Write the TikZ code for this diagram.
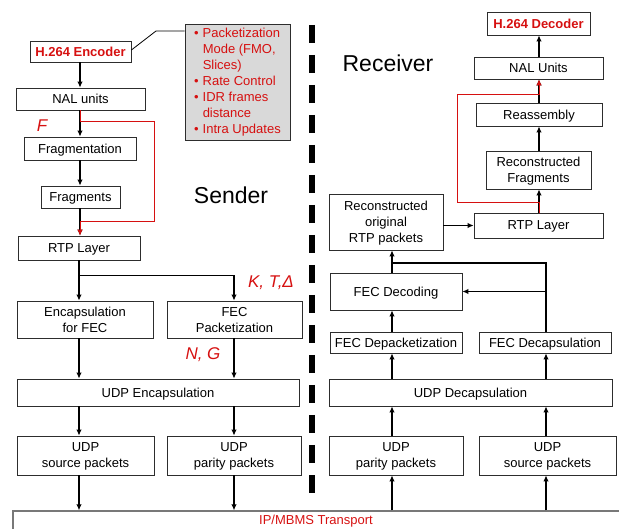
\documentclass[tikz,border=0pt]{standalone}
\usepackage{fontspec}
\setmainfont{Liberation Sans}
\usetikzlibrary{arrows.meta,positioning}
\definecolor{hred}{RGB}{214,16,16}
\definecolor{notegray}{RGB}{217,217,217}
\definecolor{boxline}{RGB}{45,45,45}
\definecolor{linegray}{RGB}{120,120,120}

\begin{document}
\begin{tikzpicture}[
  x=1pt, y=-1pt,
  box/.style={rectangle, draw=boxline, line width=0.8pt, inner sep=0pt, align=center,
              text depth=0pt, font=\fontsize{13}{16}\selectfont},
  title/.style={box, font=\fontsize{13}{16}\selectfont\bfseries, text=hred},
  arr/.style={-{Latex[length=6pt,width=5.5pt]}, line width=1.3pt},
  redarr/.style={-{Latex[length=6pt,width=5.5pt]}, line width=1pt, draw=hred},
  param/.style={font=\fontsize{17}{20}\selectfont\itshape, text=hred},
  side/.style={font=\fontsize{23}{27}\selectfont},
]
\useasboundingbox (0,0) rectangle (619,529);

% sender side
\node[title, minimum width=101pt, minimum height=21pt] (enc) at (80.5,51.5) {H.264 Encoder};
\node[box, fill=notegray, text=hred, text depth=, minimum width=105pt, minimum height=116pt] (note) at (237.5,82)
  {\begin{tabular}{@{}l@{\hspace{4pt}}l@{}}
   \textbullet & Packetization\\
               & Mode (FMO,\\
               & Slices)\\
   \textbullet & Rate Control\\
   \textbullet & IDR frames\\
               & distance\\
   \textbullet & Intra Updates
   \end{tabular}};
\node[box, minimum width=129pt, minimum height=22pt] (nal) at (80.5,99) {NAL units};
\node[box, minimum width=112pt, minimum height=23pt] (frag) at (80,148.5) {Fragmentation};
\node[box, minimum width=79pt, minimum height=22pt] (frags) at (80.5,197) {Fragments};
\node[box, minimum width=122pt, minimum height=24pt] (rtp) at (79,248) {RTP Layer};
\node[box, minimum width=136pt, minimum height=37pt] (encfec) at (85,319.5) {Encapsulation\\for FEC};
\node[box, minimum width=135pt, minimum height=37pt] (fecpkt) at (234.5,319.5) {FEC\\Packetization};
\node[box, minimum width=282pt, minimum height=27pt] (udpenc) at (158,392.5) {UDP Encapsulation};
\node[box, minimum width=137pt, minimum height=39pt] (srcpkt) at (85.5,455.5) {UDP\\source packets};
\node[box, minimum width=134pt, minimum height=39pt] (parpkt) at (234,455.5) {UDP\\parity packets};

\node[side] (sender) at (231,195) {Sender};
\node[param] (fpar) at (42,126) {F};
\node[param] (ktd) at (271,283) {K, T,Δ};
\node[param] (ng) at (203,355) {N, G};

% receiver side
\node[title, minimum width=103pt, minimum height=23pt] (dec) at (538.5,23.5) {H.264 Decoder};
\node[box, minimum width=129pt, minimum height=22pt] (nalu) at (538.5,68) {NAL Units};
\node[box, minimum width=126pt, minimum height=23pt] (reasm) at (539,114.5) {Reassembly};
\node[box, minimum width=105pt, minimum height=38pt] (recfrag) at (538.5,170) {Reconstructed\\Fragments};
\node[box, minimum width=129pt, minimum height=25pt] (rrtp) at (538.5,225.5) {RTP Layer};
\node[box, minimum width=114pt, minimum height=56pt] (recrtp) at (386,222) {Reconstructed\\original\\RTP packets};
\node[box, minimum width=132pt, minimum height=37pt] (fecdec) at (396,291.5) {FEC Decoding};
\node[box, minimum width=132pt, minimum height=21pt] (depkt) at (396,342.5) {FEC Depacketization};
\node[box, minimum width=132pt, minimum height=21pt] (decap) at (545,342.5) {FEC Decapsulation};
\node[box, minimum width=283pt, minimum height=27pt] (udpdec) at (470.5,392.5) {UDP Decapsulation};
\node[box, minimum width=134pt, minimum height=39pt] (rpar) at (396,455.5) {UDP\\parity packets};
\node[box, minimum width=137pt, minimum height=39pt] (rsrc) at (547.5,455.5) {UDP\\source packets};

\node[side] (receiver) at (388,63) {Receiver};

% transport
\node[box, draw=linegray, line width=1.3pt, minimum width=627pt, minimum height=49pt] (transport) at (326.5,535.5) {};
\node[font=\fontsize{13}{16}\selectfont, text=hred] (tlabel) at (316,521) {IP/MBMS Transport};

\draw[line width=6pt, dash pattern=on 18pt off 12pt] (312,25) -- (312,503);

% arrow columns
\coordinate (sx) at (80,0);
\coordinate (sa) at (79,0);
\coordinate (sb) at (234,0);
\coordinate (ra) at (392,0);
\coordinate (rb) at (546,0);
\coordinate (rc) at (539,0);
\coordinate (rjoin) at (392,263);

\draw[line width=0.8pt] ([yshift=1.5pt]enc.east) -- (156,31) -- (note.west |- 156,31);
\draw[arr] (enc.south -| sx) -- (nal.north -| sx);
\draw[arr] (nal.south -| sx) -- (frag.north -| sx);
\draw[arr] (frag.south -| sx) -- (frags.north -| sx);
\draw[arr] (frags.south -| sx) -- (rtp.north -| sx);
\draw[redarr] (nal.south -| sx) -- ++(0,11) -- ++(74,0) -- ++(0,100) -- ++(-74,0) -- (rtp.north -| sx);
\draw[arr] (rtp.south -| sa) -- (encfec.north -| sa);
\draw[arr] (rtp.south -| sa) -- ++(0,15) -| (fecpkt.north -| sb);
\draw[arr] (encfec.south -| sa) -- (udpenc.north -| sa);
\draw[arr] (fecpkt.south -| sb) -- (udpenc.north -| sb);
\draw[arr] (udpenc.south -| sa) -- (srcpkt.north -| sa);
\draw[arr] (udpenc.south -| sb) -- (parpkt.north -| sb);
\draw[arr] (srcpkt.south -| sa) -- (transport.north -| sa);
\draw[arr] (parpkt.south -| sb) -- (transport.north -| sb);

\draw[arr] (transport.north -| ra) -- (rpar.south -| ra);
\draw[arr] (transport.north -| rb) -- (rsrc.south -| rb);
\draw[arr] (rpar.north -| ra) -- (udpdec.south -| ra);
\draw[arr] (rsrc.north -| rb) -- (udpdec.south -| rb);
\draw[arr] (udpdec.north -| ra) -- (depkt.south -| ra);
\draw[arr] (udpdec.north -| rb) -- (decap.south -| rb);
\draw[arr] (depkt.north -| ra) -- (fecdec.south -| ra);
\draw[arr] (fecdec.north -| ra) -- (recrtp.south -| ra);
\draw[line width=1.3pt] (decap.north -| rb) |- (rjoin);
\draw[arr] (fecdec.east -| rb) -- (fecdec.east);
\draw[arr] (recrtp.east |- rrtp.west) -- (rrtp.west);
\draw[arr] (rrtp.north -| rc) -- (recfrag.south -| rc);
\draw[arr] (recfrag.north -| rc) -- (reasm.south -| rc);
\draw[arr] (reasm.north -| rc) -- (nalu.south -| rc);
\draw[arr] (nalu.north -| rc) -- (dec.south -| rc);
\draw[redarr] (rrtp.north -| rc) -- ++(0,-10) -- ++(-82,0) -- ++(0,-108) -- ++(82,0) -- (nalu.south -| rc);
\end{tikzpicture}
\end{document}
